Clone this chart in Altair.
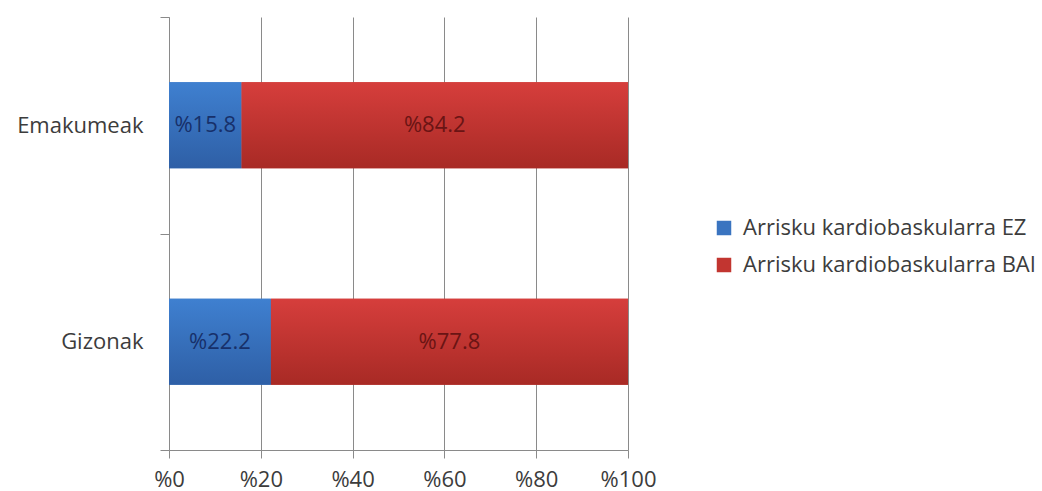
import altair as alt
import pandas as pd

categories = ["Emakumeak", "Gizonak"]
series = ["Arrisku kardiobaskularra EZ", "Arrisku kardiobaskularra BAI"]
ez_values = [15.8, 22.2]
bai_values = [84.2, 77.8]
x_ticks = [0, 20, 40, 60, 80, 100]

rows = []
for i, cat in enumerate(categories):
    rows.append({"category": cat, "series": series[0], "idx": 0, "value": ez_values[i]})
    rows.append({"category": cat, "series": series[1], "idx": 1, "value": bai_values[i]})
df = pd.DataFrame(rows)

FONT = "Open Sans"
FS = 22
AXIS_GRAY = "#8a8a8a"
TEXT_GRAY = "#3c3c3c"
BLUE = "#3a74c0"
RED = "#c23530"

blue_grad = {
    "gradient": "linear", "x1": 0, "y1": 0, "x2": 0, "y2": 1,
    "stops": [{"offset": 0, "color": "#3f80d0"}, {"offset": 1, "color": "#2e5fa6"}],
}
red_grad = {
    "gradient": "linear", "x1": 0, "y1": 0, "x2": 0, "y2": 1,
    "stops": [{"offset": 0, "color": "#d63e3c"}, {"offset": 1, "color": "#a82a25"}],
}

y_enc = alt.Y(
    "category:N",
    sort=categories,
    scale=alt.Scale(paddingInner=0, paddingOuter=0),
    axis=alt.Axis(
        title=None, tickBand="extent", tickSize=9, labelPadding=17,
        labelFontSize=FS, labelColor=TEXT_GRAY, labelFont=FONT,
        domainColor=AXIS_GRAY, tickColor=AXIS_GRAY, grid=False,
    ),
)
x_enc = alt.X(
    "value:Q",
    stack="zero",
    scale=alt.Scale(domain=[0, 100], nice=False),
    axis=alt.Axis(
        title=None, values=x_ticks, labelExpr="'%' + datum.value",
        labelFlush=False, labelOverlap=False,
        tickSize=8, labelPadding=11, labelFontSize=FS, labelColor=TEXT_GRAY,
        labelFont=FONT, domainColor=AXIS_GRAY, tickColor=AXIS_GRAY,
        grid=True, gridColor=AXIS_GRAY, gridOpacity=1,
    ),
)

base = alt.Chart(df)

legend_bars = base.mark_bar(size=86).encode(
    y=y_enc,
    x=x_enc,
    color=alt.Color(
        "series:N",
        sort=series,
        scale=alt.Scale(domain=series, range=[BLUE, RED]),
        legend=alt.Legend(
            title=None, orient="none", legendX=544, legendY=200,
            symbolType="square", symbolSize=210, symbolStrokeWidth=0,
            labelFontSize=FS, labelFont=FONT, labelColor=TEXT_GRAY,
            labelOffset=8, rowPadding=15, labelLimit=400,
        ),
    ),
    order=alt.Order("idx:Q"),
)

gradient_bars = base.mark_bar(size=86).encode(
    y=alt.Y("category:N", sort=categories),
    x=alt.X("value:Q", stack="zero"),
    fill=alt.condition(alt.datum.idx == 0, alt.value(blue_grad), alt.value(red_grad)),
    order=alt.Order("idx:Q"),
)

labels = (
    base.transform_stack(
        stack="value", groupby=["category"], as_=["x0", "x1"], sort=[alt.SortField("idx")]
    )
    .transform_calculate(mid="(datum.x0 + datum.x1) / 2",
                         label="'%' + format(datum.value, '.1f')")
    .mark_text(fontSize=FS, font=FONT, align="center", baseline="middle")
    .encode(
        y=alt.Y("category:N", sort=categories),
        x=alt.X("mid:Q"),
        text="label:N",
        color=alt.condition(alt.datum.idx == 0, alt.value("#17306a"), alt.value("#6a1414")),
    )
)

chart = (
    alt.layer(legend_bars, gradient_bars, labels)
    .properties(
        width=459, height=433,
        autosize=alt.AutoSizeParams(type="none"),
        padding={"left": 169, "top": 17, "right": 414, "bottom": 41},
        background="white",
    )
    .configure_view(stroke=None)
)

chart.save("out.html", embed_options={"renderer": "svg", "actions": False})
